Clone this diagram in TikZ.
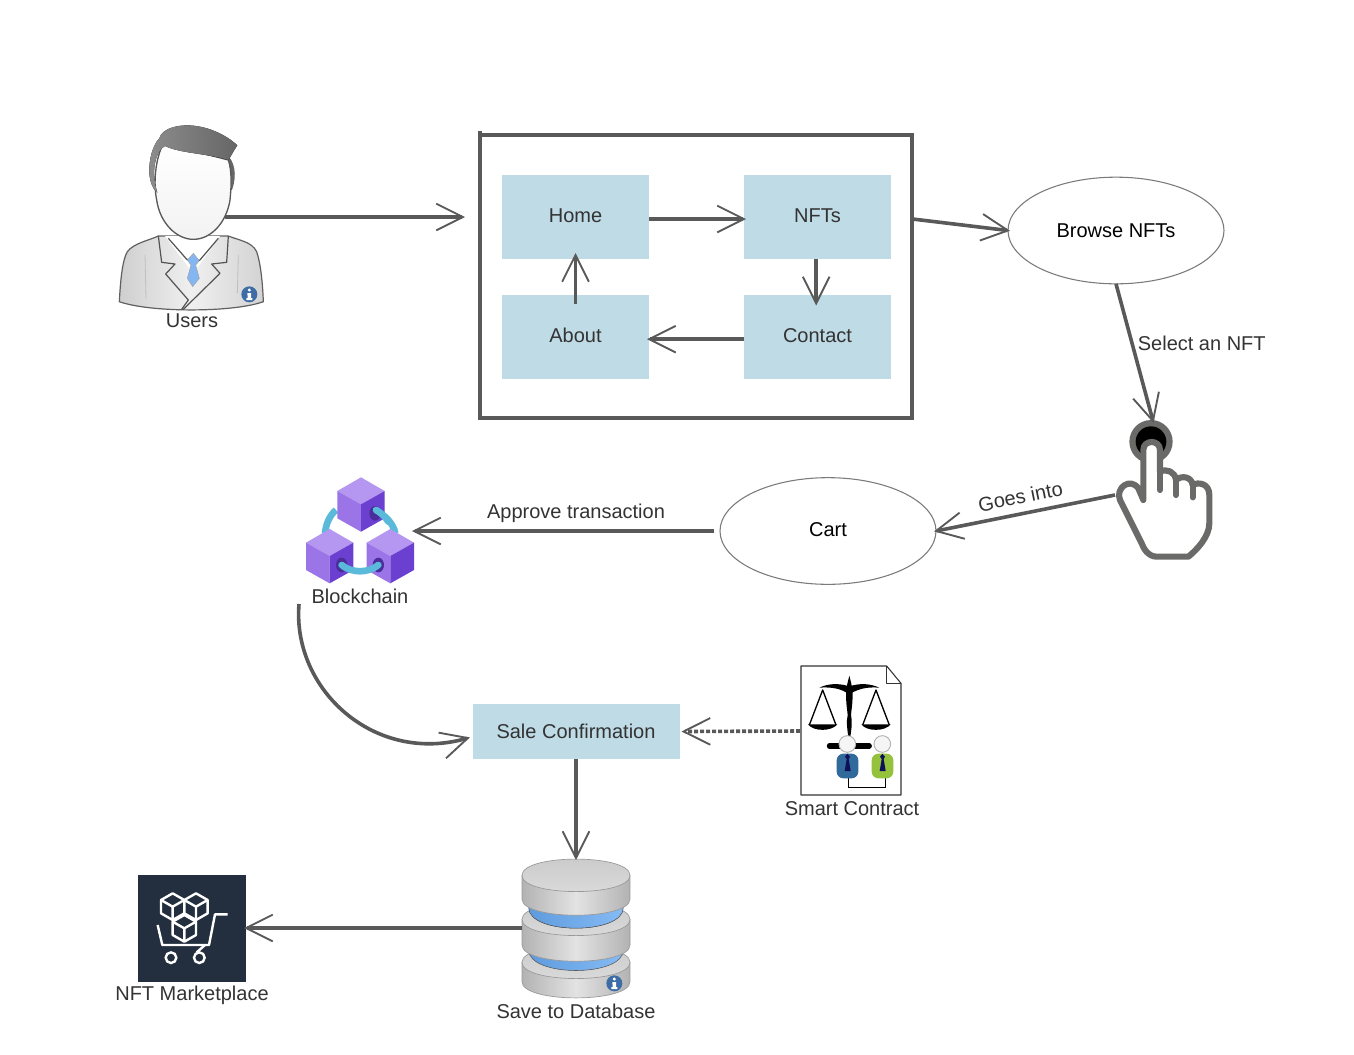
\documentclass[tikz,border=0pt]{standalone}
\usepackage{fontspec}
\setmainfont{Liberation Sans}
\usetikzlibrary{arrows.meta,shapes.geometric}
\definecolor{flow}{HTML}{595959}
\definecolor{lab}{HTML}{333333}
\definecolor{boxfill}{HTML}{BFDBE6}
\definecolor{ringc}{HTML}{7A7A7A}
\definecolor{handc}{HTML}{6A6B69}
\definecolor{badge}{HTML}{3E6CA6}
\definecolor{cubeT}{HTML}{B596F0}
\definecolor{cubeL}{HTML}{9B74E8}
\definecolor{cubeR}{HTML}{6B3FD0}
\definecolor{hole}{HTML}{4A2E9A}
\definecolor{linkc}{HTML}{5BBAD9}
\definecolor{mkt}{HTML}{232F3E}
\definecolor{tiec}{HTML}{84B6F2}
\definecolor{bandL}{HTML}{5F9BDD}
\definecolor{bandR}{HTML}{85BBF5}
\definecolor{hairD}{HTML}{666666}
\definecolor{hairL}{HTML}{8C8C8C}
\definecolor{suitblue}{HTML}{2F6A9B}
\definecolor{suitgreen}{HTML}{95C23D}
\definecolor{tienavy}{HTML}{10105A}
\newcommand{\infobadge}[2]{%
  \fill[badge] (#1,#2) circle (24);
  \fill[white] (#1,#2-13) circle (5);
  \fill[white] (#1-6,#2-4) -- (#1+5,#2-4) -- (#1+5,#2+11) -- (#1+9,#2+11) -- (#1+9,#2+17) -- (#1-9,#2+17) -- (#1-9,#2+11) -- (#1-5,#2+11) -- (#1-5,#2+2) -- (#1-6,#2+2) -- cycle;}
\newcommand{\dbdisk}[2]{%
  \draw[draw=gray!80,line width=.5pt,left color=gray!60,right color=gray!60,middle color=gray!22]
    (36,#1) -- (36,#1+#2) .. controls (36,#1+#2+65) and (360,#1+#2+65) .. (360,#1+#2) -- (360,#1) -- cycle;
  \draw[draw=gray!80,line width=.5pt,top color=gray!42,bottom color=gray!28]
    (36,#1) .. controls (36,#1-65) and (360,#1-65) .. (360,#1) .. controls (360,#1+65) and (36,#1+65) .. (36,#1) -- cycle;}
\newcommand{\dbband}[1]{%
  \fill[left color=bandL,right color=bandR,draw=gray!70!black,line width=.4pt]
    (56,#1-12) .. controls (56,#1+70) and (340,#1+70) .. (340,#1-12) -- cycle;}
\newcommand{\isocube}[2]{%
  \draw[white,line width=1.8pt,fill=mkt,line join=round]
    (#1,#2-40) -- (#1+35,#2-20) -- (#1+35,#2+20) -- (#1,#2+40) -- (#1-35,#2+20) -- (#1-35,#2-20) -- cycle;
  \draw[white,line width=1.8pt,line join=round]
    (#1-35,#2-20) -- (#1,#2) -- (#1+35,#2-20) (#1,#2) -- (#1,#2+40);}
\newcommand{\cube}[2]{%
  \fill[cubeT] (#1,#2) -- (#1+71,#2+41) -- (#1,#2+81) -- (#1-71,#2+41) -- cycle;
  \fill[cubeL] (#1-71,#2+41) -- (#1,#2+81) -- (#1,#2+163) -- (#1-71,#2+123) -- cycle;
  \fill[cubeR] (#1+71,#2+41) -- (#1,#2+81) -- (#1,#2+163) -- (#1+71,#2+123) -- cycle;}
\tikzset{
  flowline/.style={draw=flow,line width=2.7pt,shorten >=-1.5pt,-{Straight Barb[length=20pt,width=20pt,line width=1.4pt]}},
  menubox/.style={fill=boxfill,minimum width=110.25pt,minimum height=63pt,inner sep=0pt,outer sep=0pt,text=lab,text height=10.9pt,text depth=2.6pt},
  oval/.style={ellipse,draw=ringc,line width=.8pt,minimum width=162pt,minimum height=80pt,inner sep=0pt,outer sep=0pt,text=black},
  lbl/.style={text=lab,inner sep=0pt},
  iconbox/.style 2 args={minimum width=#1*0.75pt,minimum height=#2*0.75pt,inner sep=0pt,outer sep=0pt}
}
\begin{document}
\begin{tikzpicture}[x=0.75pt,y=-0.75pt,font=\fontsize{15}{18}\selectfont]
\useasboundingbox (0,0) rectangle (1354,1054);
\fill[white] (0,0) rectangle (1354,1054);

% ---------- panel and menu
\node[draw=flow,line width=3pt,minimum width=324pt,minimum height=212.25pt,inner sep=0pt,outer sep=0pt] (panel) at (696,276) {};
\draw[flow,line width=3pt] (panel.north west) -- ++(0,-4);
\node[menubox] (home) at (575.5,217) {Home};
\node[menubox] (nfts) at (817.5,217) {NFTs};
\node[menubox] (about) at (575.5,336.5) {About};
\node[menubox] (contact) at (817.5,336.5) {Contact};
\node[oval] (browse) at (1116,230.5) {Browse NFTs};
\node[oval,text depth=2pt,text height=10.9pt] (cart) at (828,531) {Cart};
\node[fill=boxfill,minimum width=155.25pt,minimum height=41.25pt,inner sep=0pt,outer sep=0pt,text=lab] (sale) at (576,731.5) {Sale Confirmation};

% ---------- icon anchors
\node[iconbox={66}{180}] (user) at (192,217) {};
\node[iconbox={108}{106}] (chain) at (360,531) {};
\node[iconbox={100}{130}] (contract) at (850,731) {};
\node[iconbox={108}{140}] (db) at (576,928) {};
\node[iconbox={108}{107}] (market) at (192,928) {};
\coordinate (panelin) at (463,217);
\coordinate (panelout) at (912.5,219);
\coordinate (handtop) at (1153,421);
\coordinate (handleft) at (1115,495);
\coordinate (chainout) at (299,604);
\coordinate (salein) at (468,738);

% ---------- user
\begin{scope}[shift={(100,110)},x=0.25pt,y=-0.25pt]
  \draw[draw=gray!75!black,line width=.9pt,left color=gray!38,right color=gray!35,middle color=gray!12]
    (58,575) .. controls (62,500) and (68,450) .. (82,425) .. controls (100,400) and (150,390) .. (175,378)
    -- (385,378) .. controls (420,392) and (455,395) .. (470,425) .. controls (482,460) and (488,520) .. (490,575)
    .. controls (400,608) and (150,608) .. (58,575) -- cycle;
  \fill[white] (195,378) -- (280,490) -- (360,378) -- cycle;
  \fill[tiec,draw=gray!70,line width=.4pt] (280,430) -- (298,452) -- (287,465) -- (298,505) -- (278,530) -- (262,505) -- (273,465) -- (262,450) -- cycle;
  \draw[gray!65!black,line width=.9pt,line join=round]
    (175,378) -- (185,457) -- (225,462) -- (197,492) -- (265,570) -- (245,598);
  \draw[gray!65!black,line width=.9pt,line join=round]
    (385,378) -- (380,457) -- (335,462) -- (360,490) -- (250,598);
  \draw[gray!65!black,line width=.9pt] (205,385) -- (262,450) (355,385) -- (298,452);
  \draw[gray!50,line width=.6pt] (135,435) -- (138,565) (415,435) -- (412,550);
  % right side hair
  \fill[hairD] (375,130) .. controls (405,150) and (412,195) .. (396,240) -- (370,240) -- cycle;
  % face
  \draw[draw=gray!70!black,line width=1pt,top color=white,bottom color=gray!10]
    (190,100) .. controls (165,150) and (160,220) .. (170,270) .. controls (180,340) and (230,388) .. (280,388)
    .. controls (335,388) and (380,335) .. (390,270) .. controls (395,220) and (395,180) .. (385,150) -- cycle;
  % hair
  \fill[left color=hairL,right color=hairD]
    (178,85) .. controls (158,105) and (146,150) .. (148,190) .. controls (150,215) and (158,238) .. (172,248)
    .. controls (162,215) and (160,185) .. (165,160) .. controls (170,135) and (180,115) .. (195,108)
    .. controls (240,130) and (320,130) .. (385,150)
    .. controls (395,135) and (402,120) .. (412,106) .. controls (390,85) and (350,60) .. (300,50)
    .. controls (240,38) and (185,55) .. (178,85) -- cycle;
  \infobadge{448}{553}
\end{scope}
\node[lbl] (userlab) at (192,320.5) {Users};

% ---------- hand
\begin{scope}[shift={(1100,400)},x=0.25pt,y=-0.25pt]
  \fill[handc] (153,125) circle (65);
  \fill[black] (153,125) circle (46);
  \draw[handc,line width=4.6pt,fill=white,line join=round,line cap=round]
    (130,300) -- (130,150) .. controls (130,118) and (180,118) .. (180,150) -- (180,215)
    .. controls (200,205) and (225,215) .. (228,240)
    .. controls (245,225) and (275,230) .. (278,255)
    .. controls (295,245) and (328,250) .. (328,285) -- (328,370)
    .. controls (328,410) and (290,450) .. (265,470) -- (170,470)
    .. controls (145,470) and (130,445) .. (125,430) -- (60,300)
    .. controls (45,265) and (90,230) .. (115,265) -- (130,300) -- cycle;
  \draw[handc,line width=4.6pt,line cap=round] (180,215) -- (180,270) (228,240) -- (228,285) (278,255) -- (278,292);
\end{scope}

% ---------- blockchain
\begin{scope}[shift={(290,465)},x=0.25pt,y=-0.25pt]
  \draw[linkc,line width=5pt] (138,135) .. controls (120,150) and (108,175) .. (105,205);
  \draw[linkc,line width=5pt] (255,135) .. controls (285,150) and (310,175) .. (316,205);
  \cube{213}{37}
  \cube{119}{192}
  \cube{301}{192}
  \fill[hole] (255,145) ellipse (17 and 22);
  \fill[hole] (155,300) ellipse (17 and 22);
  \fill[hole] (265,300) ellipse (17 and 22);
  \draw[linkc,line width=5pt,line cap=round] (258,135) .. controls (275,145) and (285,155) .. (295,170);
  \draw[linkc,line width=5pt,line cap=round] (155,300) .. controls (185,325) and (235,325) .. (265,300);
\end{scope}
\node[lbl] (chainlab) at (360,596) {Blockchain};

% ---------- smart contract
\begin{scope}[shift={(790,655)},x=0.25pt,y=-0.25pt]
  \draw[black!80,line width=.8pt,fill=white,line join=round] (33,33) -- (290,33) -- (333,85) -- (333,420) -- (33,420) -- cycle;
  \draw[black!80,line width=.8pt,line join=round] (290,33) -- (290,85) -- (333,85);
  % scale
  \fill[black] (178,62) .. controls (181,75) and (184,85) .. (185,92) .. controls (210,85) and (240,85) .. (268,98)
     .. controls (240,96) and (215,98) .. (188,112) .. controls (188,150) and (184,165) .. (183,180)
     .. controls (188,200) and (184,225) .. (181,245) -- (175,245) .. controls (172,225) and (168,200) .. (173,180)
     .. controls (172,165) and (168,150) .. (168,112) .. controls (145,98) and (115,96) .. (88,98)
     .. controls (115,85) and (145,85) .. (171,92) .. controls (172,85) and (175,75) .. (178,62) -- cycle;
  \draw[black,line width=1pt,line join=round] (58,210) -- (98,105) -- (138,210);
  \draw[black,line width=1pt,line join=round] (218,210) -- (258,105) -- (298,210);
  \fill[black] (54,208) .. controls (70,230) and (125,230) .. (142,208) -- cycle;
  \fill[black] (214,208) .. controls (230,230) and (285,230) .. (302,208) -- cycle;
  \draw[black,line width=3.8pt,line cap=round] (118,273) -- (238,273);
  % people
  \draw[black,line width=.7pt] (175,365) -- (175,396) -- (285,396) -- (285,365);
  \fill[suitblue,rounded corners=5pt] (140,370) rectangle (205,296);
  \fill[suitgreen,rounded corners=5pt] (245,370) rectangle (310,296);
  \fill[tienavy] (172,296) -- (180,305) -- (176,312) -- (182,348) -- (164,348) -- (170,312) -- (165,305) -- cycle;
  \fill[tienavy] (277,296) -- (285,305) -- (281,312) -- (287,348) -- (269,348) -- (275,312) -- (270,305) -- cycle;
  \draw[gray!60,line width=.7pt,fill=gray!8] (172,267) circle (25);
  \draw[gray!60,line width=.7pt,fill=gray!8] (277,267) circle (25);
\end{scope}
\node[lbl] (contractlab) at (852,809) {Smart Contract};

% ---------- database
\begin{scope}[shift={(510,850)},x=0.25pt,y=-0.25pt]
  \dbdisk{337}{58}
  \dbband{312}
  \dbdisk{208}{77}
  \dbband{185}
  \dbdisk{76}{71}
  \infobadge{313}{400}
\end{scope}
\node[lbl] (dblab) at (576,1011) {Save to Database};

% ---------- marketplace
\fill[mkt] (market.north west) rectangle (market.south east);
\begin{scope}[shift={(130,865)},x=0.25pt,y=-0.25pt]
  \isocube{128}{125}
  \isocube{198}{125}
  \isocube{163}{190}
  \draw[white,line width=1.8pt,line join=round] (293,148) -- (255,148) -- (237,240) -- (97,240) -- (83,180);
  \draw[white,line width=1.8pt] (123,278) circle (16) (208,278) circle (16);
  \draw[white,line width=1.8pt] (200,262) -- (225,240);
\end{scope}
\node[lbl] (marketlab) at (192,995.5) {NFT Marketplace};

% ---------- connectors
\draw[flowline] (user.east) -- (panelin);
\draw[flowline] (home.east) ++(0,2) -- ([yshift=-1.5pt]nfts.west);
\draw[flowline] ([xshift=-1pt]nfts.south) -- ([xshift=-1pt,yshift=-6.75pt]contact.north);
\draw[flowline] ([yshift=-2pt]contact.west) -- ([yshift=-2pt]about.east);
\draw[flowline] (about.north) ++(0,9) -- ([yshift=3pt]home.south);
\draw[flowline] (panelout) -- (browse.west);
\draw[flowline] (browse.south) -- node[lbl,pos=.434,right=3pt,anchor=west] (selectlab) {Select an NFT} (handtop);
\draw[flowline] (handleft) -- node[lbl,pos=.51,above=6pt,sloped] (goeslab) {Goes into} (cart.east);
\draw[flowline] ([xshift=-4.5pt]cart.west) -- node[lbl,pos=.46,above=5.25pt] (approvelab) {Approve transaction} (chain.east);
\draw[flowline] (chainout) .. controls (292,690) and (375,765) .. (salein);
\draw[flowline,dash pattern=on 3pt off 1.5pt] (contract.west) -- ([xshift=3pt]sale.east);
\draw[flowline] (sale.south) -- (db.north);
\draw[flowline] (db.west) -- (market.east);
\end{tikzpicture}
\end{document}
